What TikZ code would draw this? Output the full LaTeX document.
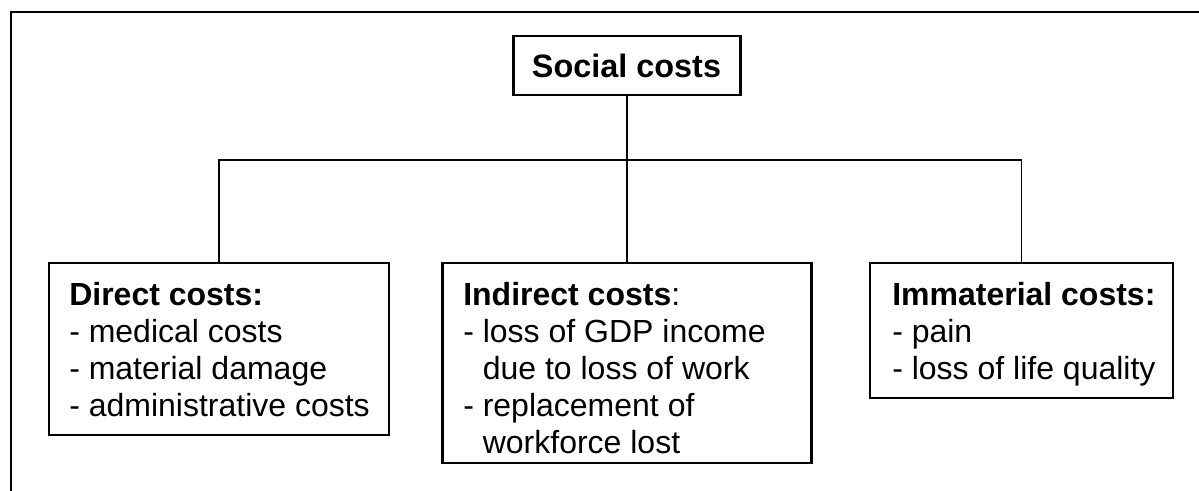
\documentclass[tikz,border=0pt]{standalone}
\usepackage{fontspec}
\setmainfont{Liberation Sans}
\newcommand\stacklines[1]{\vtop{\baselineskip=27.75pt\lineskiplimit=-10pt\halign{##\hfil\cr#1\crcr}}}
\begin{document}
\begin{tikzpicture}[x=0.75pt,y=-0.75pt,
  box/.style={draw=black,line width=1.6pt,inner sep=0pt,rectangle},
  txt/.style={inner sep=0pt,anchor=base west,font=\fontsize{24pt}{27.75pt}\selectfont},
  conn/.style={draw=black,line width=1.05pt},
  frame/.style={draw=black,line width=2pt}]
\useasboundingbox (0,0) rectangle (1199,490);
% outer frame (partly visible)
\draw[frame] (11,495) -- (11,12) -- (1205,12);
% boxes
\node[box,minimum width=170.25pt,minimum height=44.25pt] (social) at (627,65.5) {};
\node[box,minimum width=255pt,minimum height=129pt] (direct) at (219,349) {};
\node[box,minimum width=276.75pt,minimum height=150pt] (indirect) at (627,363) {};
\node[box,minimum width=227.25pt,minimum height=101.25pt] (immat) at (1021.5,330.5) {};
% texts
\node[inner sep=0pt,anchor=base,font=\fontsize{24.3pt}{28pt}\selectfont\bfseries] (socialT) at (626.5,77) {Social costs};
\node[txt] (directT) at (69,305) {\stacklines{\textbf{Direct costs:}\cr - medical costs\cr - material damage\cr - administrative costs}};
\node[txt] (indirectT) at (463,305) {\stacklines{\textbf{Indirect costs}:\cr - loss of GDP income\cr \hphantom{- }due to loss of work\cr - replacement of\cr \hphantom{- }workforce lost}};
\node[txt] (immatT) at (892,305) {\stacklines{\textbf{Immaterial costs:}\cr - pain\cr - loss of life quality}};
% connectors
\coordinate (junc) at (social.south |- 0,160);
\draw[conn] (social.south) -- (junc);
\draw[conn] (direct.north) |- (junc) -| (immat.north);
\draw[conn] (junc) -- (indirect.north);
\end{tikzpicture}
\end{document}
